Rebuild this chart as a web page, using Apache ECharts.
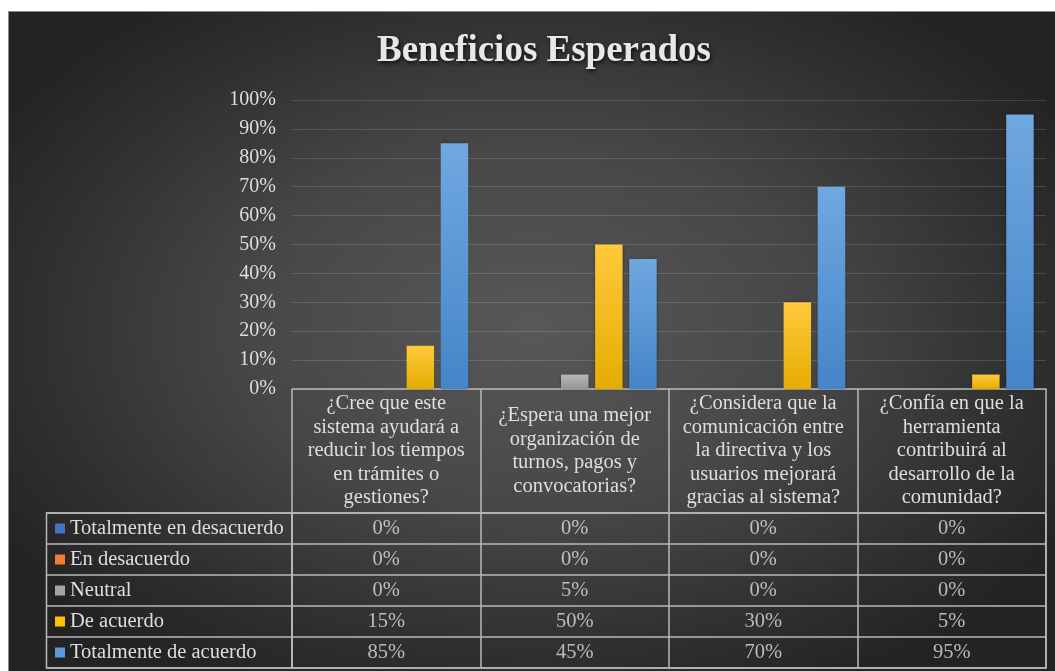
<!DOCTYPE html>
<html>
<head>
<meta charset="utf-8">
<title>Beneficios Esperados</title>
<script src="https://cdn.jsdelivr.net/npm/echarts@6/dist/echarts.min.js"></script>
<style>
  html, body { margin: 0; padding: 0; background: #fff; }
  #bg {
    position: absolute; left: 8px; top: 11px; right: 0; bottom: 0;
    border-top: 1px solid #8a8a8a; border-left: 1px solid #8a8a8a;
    background: radial-gradient(ellipse 60% 62% at 50% 48%, #585858 0%, #474747 45%, #2f2f2f 80%, #232323 100%);
  }
  #main { position: absolute; left: 0; top: 0; width: 1055px; height: 671px; }
</style>
</head>
<body>
<div id="bg"></div>
<div id="main"></div>
<script>
// categories (question texts, wrapped as in the table header)
var categories = [
  '¿Cree que este\nsistema ayudará a\nreducir los tiempos\nen trámites o\ngestiones?',
  '¿Espera una mejor\norganización de\nturnos, pagos y\nconvocatorias?',
  '¿Considera que la\ncomunicación entre\nla directiva y los\nusuarios mejorará\ngracias al sistema?',
  '¿Confía en que la\nherramienta\ncontribuirá al\ndesarrollo de la\ncomunidad?'
]
var seriesNames = ['Totalmente en desacuerdo', 'En desacuerdo', 'Neutral', 'De acuerdo', 'Totalmente de acuerdo']

// values in %
var totalDesacuerdo = [0, 0, 0, 0]
var desacuerdo = [0, 0, 0, 0]
var neutral = [0, 5, 0, 0]
var deAcuerdo = [15, 50, 30, 5]
var totalAcuerdo = [85, 45, 70, 95]

var yTicks = [0, 10, 20, 30, 40, 50, 60, 70, 80, 90, 100]

var rows = [totalDesacuerdo, desacuerdo, neutral, deAcuerdo, totalAcuerdo]
var swatch = ['#4472C4', '#ED7D31', '#A5A5A5', '#FFC000', '#5B9BD5']
var barTop = ['#4d7fd6', '#f38a42', '#b8b8b8', '#ffc93d', '#70a8e0']
var barBottom = ['#3a62ab', '#d06a24', '#969696', '#e5ad00', '#4485c8']

var serif = '"Liberation Serif", "Times New Roman", serif'
var txt = '#dedede'
var line = '#b9b9b9'

var chart = echarts.init(document.getElementById('main'), null, { renderer: 'canvas' })

var rich = { t: { fontSize: 20.5, fontFamily: serif, color: txt, padding: [0, 0, 0, 5] } }
swatch.forEach(function (c, i) {
  rich['b' + i] = { width: 10, height: 10, backgroundColor: c }
})

var cellData = []
rows.forEach(function (row, r) {
  row.forEach(function (v, c) {
    cellData.push([c, r, v])
  })
})

var series = rows.map(function (row, i) {
  return {
    name: seriesNames[i],
    type: 'bar',
    xAxisIndex: 0,
    yAxisIndex: 0,
    barWidth: 27.5,
    barGap: '24%',
    data: row,
    itemStyle: {
      color: new echarts.graphic.LinearGradient(0, 0, 0, 1, [
        { offset: 0, color: barTop[i] },
        { offset: 1, color: barBottom[i] }
      ]),
      shadowColor: 'rgba(0,0,0,0.35)',
      shadowBlur: 3
    }
  }
})

series.push({
  type: 'scatter',
  xAxisIndex: 1,
  yAxisIndex: 1,
  symbolSize: 1,
  itemStyle: { color: 'transparent' },
  silent: true,
  data: cellData,
  label: {
    show: true,
    position: 'inside',
    fontSize: 20.5,
    fontFamily: serif,
    color: txt,
    formatter: function (p) { return p.value[2] + '%' }
  }
})

var option = {
  animation: false,
  title: {
    text: 'Beneficios Esperados',
    left: 539,
    textAlign: 'center',
    top: 28,
    textStyle: {
      fontFamily: serif,
      fontWeight: 'bold',
      fontSize: 37,
      color: '#e8e8e8',
      textShadowColor: 'rgba(0,0,0,0.8)',
      textShadowBlur: 4,
      textShadowOffsetX: 1,
      textShadowOffsetY: 2
    }
  },
  grid: [
    { left: 292, right: 9, top: 100, bottom: 282 },
    { left: 292, right: 9, top: 513, bottom: 3, show: true, borderColor: line, borderWidth: 1.5 },
    { left: 46.5, width: 245.5, top: 513, bottom: 3, show: true, borderColor: line, borderWidth: 1.5 }
  ],
  xAxis: [
    {
      type: 'category',
      gridIndex: 0,
      data: categories,
      axisLine: { show: true, lineStyle: { color: line, width: 1.5 } },
      axisTick: { show: true, interval: 0, length: 123, lineStyle: { color: line, width: 1.5 } },
      axisLabel: {
        interval: 0,
        margin: 62,
        verticalAlign: 'middle',
        lineHeight: 23.5,
        fontSize: 20.5,
        fontFamily: serif,
        color: txt
      }
    },
    {
      type: 'category',
      gridIndex: 1,
      data: categories,
      axisLine: { show: false },
      axisTick: { show: false },
      axisLabel: { show: false },
      splitLine: { show: true, interval: 0, lineStyle: { color: line, width: 1.5 } }
    },
    { type: 'value', gridIndex: 2, show: false, min: 0, max: 1 }
  ],
  yAxis: [
    {
      type: 'value',
      gridIndex: 0,
      min: yTicks[0],
      max: yTicks[yTicks.length - 1],
      interval: 10,
      axisLine: { show: false },
      axisTick: { show: false },
      axisLabel: { formatter: '{value}%', margin: 16, fontSize: 20, fontFamily: serif, color: txt },
      splitLine: { lineStyle: { color: 'rgba(255,255,255,0.14)', width: 1.2 } }
    },
    {
      type: 'category',
      gridIndex: 1,
      inverse: true,
      data: seriesNames,
      axisLine: { show: false },
      axisTick: { show: false },
      axisLabel: { show: false },
      splitLine: { show: true, interval: 0, lineStyle: { color: line, width: 1.5 } }
    },
    {
      type: 'category',
      gridIndex: 2,
      inverse: true,
      data: seriesNames,
      axisLine: { show: false },
      axisTick: { show: false },
      splitLine: { show: true, interval: 0, lineStyle: { color: line, width: 1.5 } },
      axisLabel: {
        inside: true,
        interval: 0,
        margin: 8.5,
        align: 'left',
        formatter: function (value, index) {
          return '{b' + index + '|}{t|' + value + '}'
        },
        rich: rich
      }
    }
  ],
  series: series
}

chart.setOption(option)
</script>
</body>
</html>
